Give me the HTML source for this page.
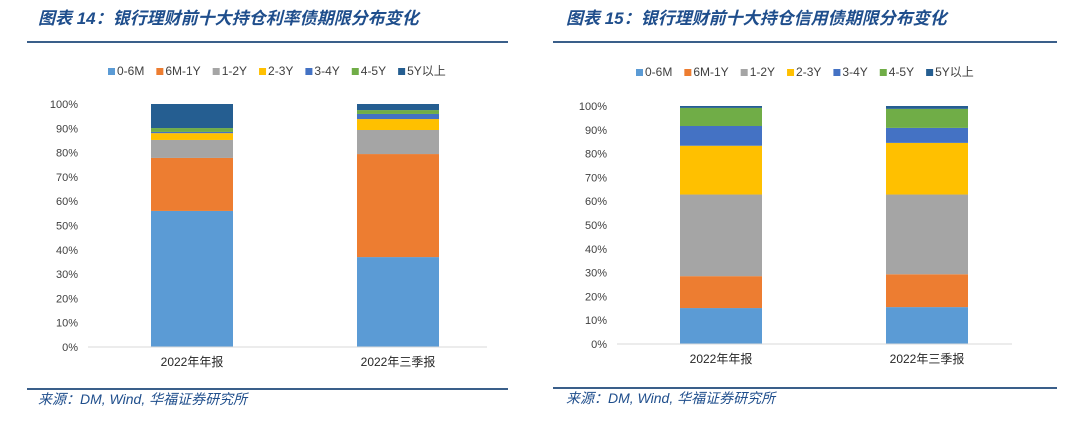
<!DOCTYPE html>
<html><head><meta charset="utf-8"><style>
body{margin:0;background:#fff;width:1080px;height:424px;overflow:hidden;font-family:"Liberation Sans","Noto Sans CJK SC",sans-serif}
svg{position:absolute;left:0;top:0}
</style></head><body>
<svg id="s" width="1080" height="424"></svg>
<script>
const categories=["2022年年报","2022年三季报"];
const seriesNames=["0-6M","6M-1Y","1-2Y","2-3Y","3-4Y","4-5Y","5Y以上"];
const colors=["#5b9bd5","#ed7d31","#a5a5a5","#ffc000","#4472c4","#70ad47","#255e91"];
const rateValues=[[56,37],[21.8,42.4],[7.4,9.9],[2.8,4.5],[0.5,2.1],[1.6,1.6],[9.9,2.5]];
const creditValues=[[15.1,15.5],[13.4,13.8],[34.3,33.5],[20.5,21.7],[8.3,6.3],[7.6,8],[0.8,1.2]];
const yTicks=[0,10,20,30,40,50,60,70,80,90,100];
const NS="http://www.w3.org/2000/svg";
const svg=document.getElementById('s');
function el(t,a,txt){const e=document.createElementNS(NS,t);for(const k in a)e.setAttribute(k,a[k]);if(txt!==undefined)e.textContent=txt;svg.appendChild(e);return e;}
function panel(p){
  let t=el('text',{x:p.tx,y:24,'font-size':17,'font-weight':'bold','font-style':'italic',fill:'#1f4e8c'},p.title);
  
  
  let l=el('line',{x1:p.lx1,x2:p.lx2,y1:42,y2:42,stroke:'#3a5f8a','stroke-width':2});
  
  
  l=el('line',{x1:p.lx1,x2:p.lx2,y1:p.fy,y2:p.fy,stroke:'#3a5f8a','stroke-width':2});
  
  
  t=el('text',{x:p.tx,y:p.fy+15,'font-size':14,'font-style':'italic',fill:'#1f4e8c'},'来源：DM, Wind, 华福证券研究所');
  
  
  let lx=p.legX;
  seriesNames.forEach((n,i)=>{
    const r=el('rect',{x:lx,y:p.legY-7,width:7,height:7,fill:colors[i]});
    
    
    const tt=el('text',{x:lx+9,y:p.legY,'font-size':12,fill:'#404040'},n);
    
    
    lx+=9+tt.getComputedTextLength()+12;
  });
  const y=v=>p.y0-(p.y0-p.y100)*v/100;
  yTicks.forEach(v=>{
    const tk=el('text',{x:p.ax-10,y:y(v)+4,'font-size':11,fill:'#404040','text-anchor':'end'},v+'%');
    
    
  });
  const bw=82;
  categories.forEach((c,ci)=>{
    const bx=p.ax+104+206*ci-bw/2;
    let acc=0;
    p.data.forEach((s,si)=>{
      const v=s[ci];
      const r=el('rect',{x:bx,y:y(acc+v),width:bw,height:y(acc)-y(acc+v),fill:colors[si]});
      
      
      acc+=v;
    });
    const ct=el('text',{x:bx+bw/2,y:p.y0+19,'font-size':12,fill:'#262626','text-anchor':'middle'},c);
    
    
  });
  const ax=el('line',{x1:p.ax,x2:p.ax2,y1:p.y0,y2:p.y0,stroke:'#d9d9d9','stroke-width':1});
  
  
}
panel({id:'rate-chart',title:'图表 14：银行理财前十大持仓利率债期限分布变化',tx:38,lx1:27,lx2:508,fy:389,legX:108,legY:75,ax:88,ax2:487,y0:347,y100:104,data:rateValues});
panel({id:'credit-chart',title:'图表 15：银行理财前十大持仓信用债期限分布变化',tx:566,lx1:553,lx2:1057,fy:388,legX:636,legY:76,ax:617,ax2:1012,y0:344,y100:106,data:creditValues});
</script>
</body></html>
